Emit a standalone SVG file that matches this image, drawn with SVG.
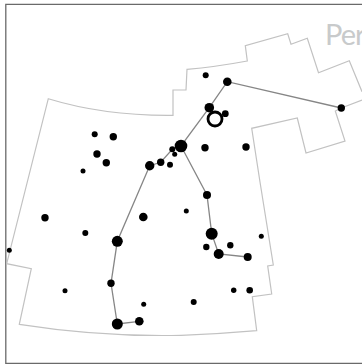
<svg xmlns="http://www.w3.org/2000/svg" width="362" height="364" viewBox="0 0 362 364">
<style>
.frame{fill:none;stroke:#6a6a6a;stroke-width:1.3}
.bound{fill:none;stroke:#c2c2c2;stroke-width:1.2}
.link{fill:none;stroke:#868686;stroke-width:1.3}
.star circle{fill:#000}
text{font-family:Lato,"Open Sans",sans-serif;font-size:29px;letter-spacing:-1px;fill:#c8cacb}
</style>
<rect width="362" height="364" fill="#fff"/>
<path class="frame" d="M362 4.4H5.8V363.4H362"/>
<path class="bound" d="M362 91.7L349.3 60.7L318.5 72.8L307.3 38.3L291 44.3L287.7 33.7L245.3 45.7L247.3 61Q215 67 187 69.3L186 90H173V115.3Q105 116 48.3 98.7L6.7 263.7L31.3 268.7L19.3 324.3Q100 337 181 335.3Q220 334 256.7 330.7L252.3 296.7L271.7 294L267.7 266L273.3 265L260 182L251.7 128.3L297.3 118L306 153L345 141L335.3 111L341.3 108L362 100"/>
<text x="325" y="45">Per</text>
<g id="connectors">
<path class="link" d="M341.3 108L227.3 81.7L209.3 107.7L181 146L172.3 149.3L160.7 162.3L149.7 165.7L117.3 241.3L111 283.3L117.3 324L139.3 321.3"/>
<path class="link" d="M181 146L207 195L211.7 233.7L218.7 254L247.7 257"/>
</g>
<g id="stars" class="star">
<circle id="s1" cx="94.7" cy="134.3" r="3"/>
<circle id="s2" cx="113.3" cy="136.7" r="3.7"/>
<circle id="s3" cx="97" cy="154" r="3.7"/>
<circle id="s4" cx="106.3" cy="162.7" r="3.7"/>
<circle id="s5" cx="83" cy="171" r="2.5"/>
<circle id="s6" cx="149.7" cy="165.7" r="4.7"/>
<circle id="s7" cx="160.7" cy="162.3" r="3.7"/>
<circle id="s8" cx="170" cy="164.7" r="3"/>
<circle id="s9" cx="181" cy="146" r="6.3"/>
<circle id="s10" cx="172.3" cy="149.3" r="3"/>
<circle id="s11" cx="174.7" cy="154.3" r="2.5"/>
<circle id="s12" cx="205.7" cy="75.3" r="3"/>
<circle id="s13" cx="227.3" cy="81.7" r="4.3"/>
<circle id="s14" cx="341.3" cy="108" r="3.7"/>
<circle id="s15" cx="209.3" cy="107.7" r="4.8"/>
<circle id="s16" cx="225.3" cy="113.7" r="3.4"/>
<circle id="s17" cx="215" cy="119" r="7" style="fill:#fff;stroke:#000;stroke-width:2.8"/>
<circle id="s18" cx="205" cy="147.7" r="3.7"/>
<circle id="s19" cx="246" cy="147" r="3.7"/>
<circle id="s20" cx="45" cy="217.7" r="3.7"/>
<circle id="s21" cx="85.3" cy="233" r="3"/>
<circle id="s22" cx="9.3" cy="250.3" r="2.5"/>
<circle id="s23" cx="143.3" cy="217" r="4.3"/>
<circle id="s24" cx="117.3" cy="241.3" r="5.5"/>
<circle id="s25" cx="111" cy="283.3" r="3.7"/>
<circle id="s26" cx="65" cy="290.7" r="2.5"/>
<circle id="s27" cx="143.7" cy="304.3" r="2.5"/>
<circle id="s28" cx="117.3" cy="324" r="5.5"/>
<circle id="s29" cx="139.3" cy="321.3" r="4.3"/>
<circle id="s30" cx="186.3" cy="211" r="2.5"/>
<circle id="s31" cx="207" cy="195" r="4"/>
<circle id="s32" cx="211.7" cy="233.7" r="6"/>
<circle id="s33" cx="206.3" cy="247" r="3.2"/>
<circle id="s34" cx="230.3" cy="245.3" r="3.2"/>
<circle id="s35" cx="218.7" cy="254" r="5"/>
<circle id="s36" cx="247.7" cy="257" r="4"/>
<circle id="s37" cx="261.3" cy="236.3" r="2.5"/>
<circle id="s38" cx="233.7" cy="290.3" r="2.7"/>
<circle id="s39" cx="249.7" cy="290.3" r="3.3"/>
<circle id="s40" cx="193.7" cy="302" r="3"/>
</g>
</svg>
